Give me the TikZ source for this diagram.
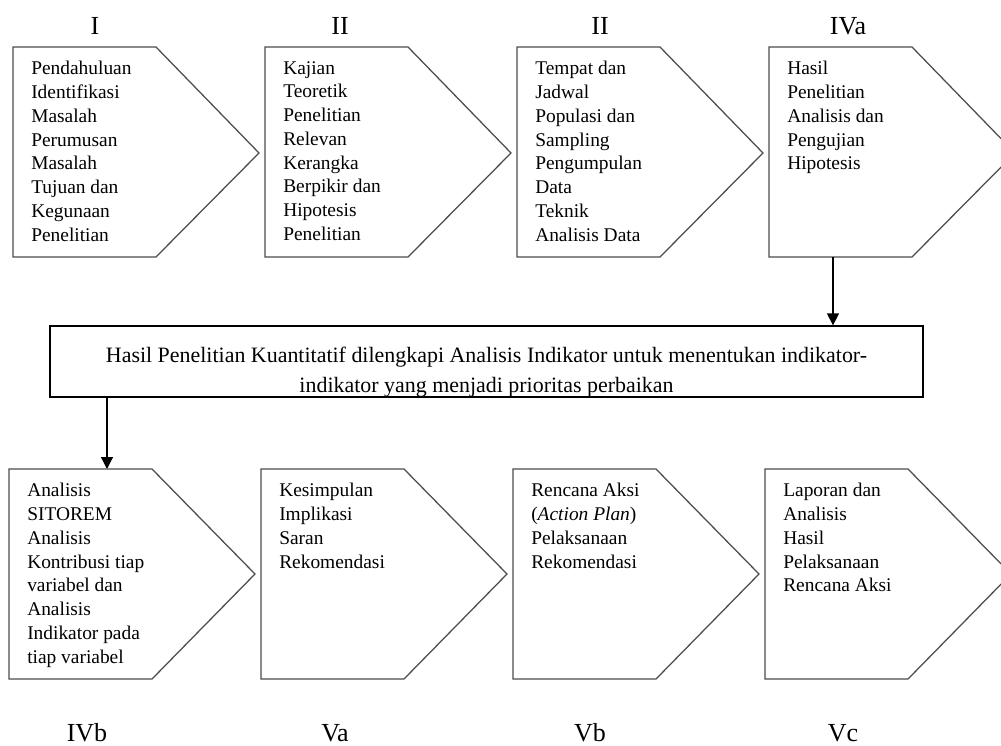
\documentclass[tikz,border=0pt]{standalone}
\usepackage{fontspec}
\setmainfont{Liberation Serif}
\usetikzlibrary{arrows.meta,positioning}

\begin{document}
\begin{tikzpicture}[x=0.025cm,y=-0.025cm,
  chev/.style={draw=black!70,line width=0.9pt},
  isi/.style={anchor=north west,inner sep=0pt,align=left,font=\fontsize{13.8}{16.9}\selectfont},
  bab/.style={anchor=base,inner sep=0pt,font=\fontsize{18.5}{20}\selectfont},
  kotak/.style={draw,line width=0.9pt,minimum width=21.825cm,minimum height=1.775cm,inner sep=0pt},
  panah/.style={-{Triangle[width=8.5pt,length=8.5pt]},line width=0.9pt}]
			\useasboundingbox (0,0) rectangle (1001,745);

			% top row
			\draw[chev] (13,47) -- ++(143,0) -- ++(103,106) -- ++(-103,104) -- ++(-143,0) -- cycle;
			\draw[chev] (265,47) -- ++(143,0) -- ++(103,106) -- ++(-103,104) -- ++(-143,0) -- cycle;
			\draw[chev] (517,47) -- ++(143,0) -- ++(103,106) -- ++(-103,104) -- ++(-143,0) -- cycle;
			\draw[chev] (769,47) -- ++(143,0) -- ++(103,106) -- ++(-103,104) -- ++(-143,0) -- cycle;

			\node[bab] (L1) at (95,34) {I};
			\node[bab] (L2) at (340,34) {II};
			\node[bab] (L3) at (600,34) {II};
			\node[bab] (L4) at (848,34) {IVa};

			\node[isi] (S1) at (31,61) {Pendahuluan\\Identifikasi\\Masalah\\Perumusan\\Masalah\\Tujuan dan\\Kegunaan\\Penelitian};
			\node[isi] (S2) at (283,61) {Kajian\\Teoretik\\Penelitian\\Relevan\\Kerangka\\Berpikir dan\\Hipotesis\\Penelitian};
			\node[isi] (S3) at (535,61) {Tempat dan\\Jadwal\\Populasi dan\\Sampling\\Pengumpulan\\Data\\Teknik\\Analisis Data};
			\node[isi] (S4) at (787,61) {Hasil\\Penelitian\\Analisis dan\\Pengujian\\Hipotesis};

			% middle box
			\node[kotak] (M) at (486.5,361.5) {};
			\node[align=center,inner sep=0pt,anchor=north,font=\fontsize{15.6}{21.3}\selectfont] (Mt) at (486.5,347) {Hasil Penelitian Kuantitatif dilengkapi Analisis Indikator untuk menentukan indikator-\\indikator yang menjadi prioritas perbaikan};

			\coordinate (a1) at (833,257);
			\coordinate (a2) at (107,469);
			\draw[panah] (a1) -- (a1 |- M.north);
			\draw[panah] (M.south -| a2) -- (a2);

			% bottom row
			\draw[chev] (9,469) -- ++(143,0) -- ++(103,105) -- ++(-103,105) -- ++(-143,0) -- cycle;
			\draw[chev] (261,469) -- ++(143,0) -- ++(103,105) -- ++(-103,105) -- ++(-143,0) -- cycle;
			\draw[chev] (513,469) -- ++(143,0) -- ++(103,105) -- ++(-103,105) -- ++(-143,0) -- cycle;
			\draw[chev] (765,469) -- ++(143,0) -- ++(103,105) -- ++(-103,105) -- ++(-143,0) -- cycle;

			\node[isi] (T1) at (27,483) {Analisis\\SITOREM\\Analisis\\Kontribusi tiap\\variabel dan\\Analisis\\Indikator pada\\tiap variabel};
			\node[isi] (T2) at (279,483) {Kesimpulan\\Implikasi\\Saran\\Rekomendasi};
			\node[isi] (T3) at (531,483) {Rencana Aksi\\(\textit{Action Plan})\\Pelaksanaan\\Rekomendasi};
			\node[isi] (T4) at (783,483) {Laporan dan\\Analisis\\Hasil\\Pelaksanaan\\Rencana Aksi};

			\node[bab] (B1) at (87,741) {IVb};
			\node[bab] (B2) at (335,741) {Va};
			\node[bab] (B3) at (590,741) {Vb};
			\node[bab] (B4) at (843,741) {Vc};
		\end{tikzpicture}
\end{document}
